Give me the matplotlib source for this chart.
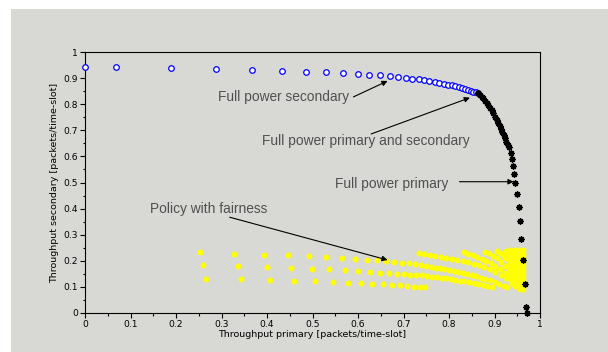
import matplotlib
matplotlib.use("Agg")
import matplotlib.pyplot as plt
from matplotlib.patches import Rectangle

# full power secondary (blue open circles)
sec_x = [0.0, 0.068, 0.189, 0.289, 0.368, 0.433, 0.486, 0.529, 0.566, 0.599,
         0.625, 0.649, 0.670, 0.689, 0.705, 0.719, 0.733, 0.746, 0.757, 0.769,
         0.779, 0.788, 0.797, 0.806, 0.814, 0.821, 0.829, 0.835, 0.842, 0.848,
         0.853, 0.859, 0.864]
sec_y = [0.944, 0.941, 0.939, 0.935, 0.932, 0.928, 0.925, 0.922, 0.918, 0.916,
         0.913, 0.911, 0.907, 0.904, 0.902, 0.898, 0.895, 0.892, 0.889, 0.885,
         0.882, 0.879, 0.875, 0.872, 0.869, 0.866, 0.862, 0.858, 0.854, 0.852,
         0.848, 0.846, 0.842]

# full power primary (black asterisks)
pri_x = [0.864, 0.868, 0.872, 0.875, 0.879, 0.883, 0.886, 0.890, 0.894, 0.897,
         0.901, 0.905, 0.908, 0.911, 0.914, 0.917, 0.920, 0.923, 0.926, 0.929,
         0.932, 0.936, 0.938, 0.940, 0.943, 0.946, 0.949, 0.953, 0.956, 0.959,
         0.963, 0.966, 0.969, 0.972]
pri_y = [0.842, 0.836, 0.829, 0.822, 0.814, 0.805, 0.797, 0.787, 0.776, 0.765,
         0.752, 0.738, 0.727, 0.716, 0.704, 0.692, 0.681, 0.669, 0.657, 0.645,
         0.637, 0.614, 0.589, 0.563, 0.533, 0.498, 0.456, 0.407, 0.351, 0.285,
         0.204, 0.112, 0.024, 0.0]

# policy with fairness (yellow dots), one list per curve
fair_top_x = [0.253, 0.328, 0.393, 0.446, 0.492, 0.530, 0.565, 0.593, 0.619, 0.641,
              0.662, 0.680, 0.697, 0.711, 0.726, 0.738, 0.750, 0.761, 0.771, 0.781,
              0.790, 0.800, 0.810, 0.820, 0.830, 0.840, 0.850, 0.860, 0.870, 0.880,
              0.890, 0.900, 0.910, 0.920, 0.928]
fair_top_y = [0.232, 0.227, 0.223, 0.221, 0.217, 0.215, 0.211, 0.207, 0.204, 0.202,
              0.198, 0.195, 0.193, 0.190, 0.188, 0.184, 0.181, 0.177, 0.174, 0.171,
              0.168, 0.165, 0.162, 0.158, 0.154, 0.150, 0.146, 0.141, 0.136, 0.131,
              0.125, 0.119, 0.112, 0.105, 0.099]
fair_mid_x = [0.259, 0.336, 0.399, 0.453, 0.499, 0.537, 0.571, 0.600, 0.626, 0.648,
              0.668, 0.686, 0.701, 0.715, 0.728, 0.740, 0.752, 0.763, 0.774, 0.784,
              0.794, 0.804, 0.814, 0.824, 0.834, 0.844, 0.854, 0.864, 0.874, 0.884,
              0.894]
fair_mid_y = [0.183, 0.179, 0.176, 0.174, 0.170, 0.167, 0.164, 0.160, 0.157, 0.155,
              0.152, 0.149, 0.148, 0.147, 0.146, 0.144, 0.141, 0.139, 0.137, 0.135,
              0.133, 0.130, 0.127, 0.124, 0.121, 0.118, 0.114, 0.110, 0.106, 0.102,
              0.098]
fair_low_x = [0.266, 0.342, 0.406, 0.460, 0.505, 0.544, 0.578, 0.607, 0.631, 0.654,
              0.674, 0.692, 0.708, 0.722, 0.736, 0.747]
fair_low_y = [0.131, 0.129, 0.126, 0.124, 0.121, 0.119, 0.116, 0.114, 0.112, 0.110,
              0.107, 0.106, 0.103, 0.101, 0.100, 0.098]
fair_a_x = [0.733, 0.745, 0.758, 0.770, 0.782, 0.794, 0.806, 0.818, 0.830, 0.842,
            0.854, 0.866, 0.878, 0.890, 0.902, 0.914, 0.926, 0.938]
fair_a_y = [0.229, 0.226, 0.222, 0.219, 0.216, 0.212, 0.208, 0.204, 0.199, 0.194,
            0.188, 0.182, 0.175, 0.167, 0.158, 0.147, 0.135, 0.120]
fair_b_x = [0.832, 0.842, 0.852, 0.862, 0.872, 0.882, 0.892, 0.902, 0.912, 0.922,
            0.930, 0.938]
fair_b_y = [0.232, 0.227, 0.221, 0.215, 0.208, 0.200, 0.191, 0.181, 0.168, 0.152,
            0.135, 0.114]
fair_c_x = [0.879, 0.888, 0.897, 0.906, 0.915, 0.924, 0.932, 0.940, 0.948]
fair_c_y = [0.235, 0.228, 0.220, 0.210, 0.197, 0.180, 0.160, 0.135, 0.105]
fair_d_x = [0.905, 0.913, 0.921, 0.929, 0.937, 0.944, 0.951, 0.957]
fair_d_y = [0.237, 0.230, 0.220, 0.207, 0.190, 0.168, 0.140, 0.100]
# the dense bunch close to x = 0.95
fair_e_x = [0.925, 0.925, 0.925, 0.935, 0.935, 0.935, 0.935, 0.935, 0.935, 0.935,
            0.945, 0.945, 0.945, 0.945, 0.945, 0.945, 0.945, 0.945, 0.945, 0.945,
            0.955, 0.955, 0.955, 0.955, 0.955, 0.955, 0.955, 0.955, 0.955, 0.955, 0.955,
            0.963, 0.963, 0.963, 0.963, 0.963, 0.963, 0.963, 0.963, 0.963, 0.963, 0.963]
fair_e_y = [0.238, 0.225, 0.212, 0.240, 0.225, 0.210, 0.195, 0.180, 0.165, 0.150,
            0.240, 0.225, 0.210, 0.195, 0.180, 0.165, 0.150, 0.135, 0.120, 0.105,
            0.240, 0.225, 0.210, 0.195, 0.180, 0.165, 0.150, 0.135, 0.120, 0.105, 0.092,
            0.240, 0.225, 0.210, 0.195, 0.180, 0.165, 0.150, 0.135, 0.120, 0.105, 0.092]

ticks = [0, 0.1, 0.2, 0.3, 0.4, 0.5, 0.6, 0.7, 0.8, 0.9, 1]
tick_labels = ["0", "0.1", "0.2", "0.3", "0.4", "0.5", "0.6", "0.7", "0.8", "0.9", "1"]

bg = "#d8d8d4"
fig = plt.figure(figsize=(6.08, 3.52), dpi=100, facecolor="white")
# grey canvas with a thin white strip on top and left
fig.patches.append(Rectangle((11 / 608, 0), 1, 1 - 9 / 352, transform=fig.transFigure,
                             facecolor=bg, edgecolor="none", zorder=-10))
ax = fig.add_axes([85 / 608, 1 - 313 / 352, 455 / 608, 261 / 352])
ax.set_facecolor(bg)

ax.plot(sec_x, sec_y, ls="none", marker="o", ms=4.0, mfc="white", mec="#0000ff", mew=0.9,
        clip_on=False, zorder=3)
yellow = dict(ls="none", marker="o", ms=4.3, color="#ffff00", mec="none", zorder=2)
for xs, ys in [(fair_top_x, fair_top_y), (fair_mid_x, fair_mid_y), (fair_low_x, fair_low_y),
               (fair_a_x, fair_a_y), (fair_b_x, fair_b_y), (fair_c_x, fair_c_y),
               (fair_d_x, fair_d_y), (fair_e_x, fair_e_y)]:
    ax.plot(xs, ys, **yellow)
ax.plot(pri_x, pri_y, ls="none", marker=(8, 2, 0), ms=4.5, color="black", mew=1.0,
        clip_on=False, zorder=4)

ax.set_xlim(0, 1)
ax.set_ylim(0, 1)
ax.set_xticks(ticks)
ax.set_xticklabels(tick_labels)
ax.set_yticks(ticks)
ax.set_yticklabels(tick_labels)
ax.set_xticks([0.05 + 0.1 * i for i in range(10)], minor=True)
ax.set_yticks([0.05 + 0.1 * i for i in range(10)], minor=True)
ax.tick_params(which="major", direction="out", length=3.6, width=0.8, labelsize=6.6,
               pad=1.5, colors="black")
ax.tick_params(which="minor", direction="out", length=1.8, width=0.8)
for s in ax.spines.values():
    s.set_linewidth(0.8)
ax.set_xlabel("Throughput primary [packets/time-slot]", fontsize=6.8, labelpad=1)
ax.set_ylabel("Throughput secondary [packets/time-slot]", fontsize=6.8, labelpad=3)

txt = dict(fontsize=9.9, color="#505050", family=["Liberation Sans", "DejaVu Sans"],
           va="center", ha="left")
arrow = dict(arrowstyle="-|>", color="black", lw=0.8, mutation_scale=8, shrinkA=0, shrinkB=0)
ax.text(0.292, 0.826, "Full power secondary", **txt)
ax.annotate("", xy=(0.665, 0.889), xytext=(0.59, 0.828), arrowprops=arrow)
ax.text(0.389, 0.658, "Full power primary and secondary", **txt)
ax.annotate("", xy=(0.846, 0.825), xytext=(0.629, 0.686), arrowprops=arrow)
ax.text(0.55, 0.493, "Full power primary", **txt)
ax.annotate("", xy=(0.942, 0.503), xytext=(0.823, 0.503), arrowprops=arrow)
ax.text(0.143, 0.397, "Policy with fairness", **txt)
ax.annotate("", xy=(0.665, 0.203), xytext=(0.318, 0.367), arrowprops=arrow)

fig.savefig("out.png", dpi=100, facecolor=fig.get_facecolor())
